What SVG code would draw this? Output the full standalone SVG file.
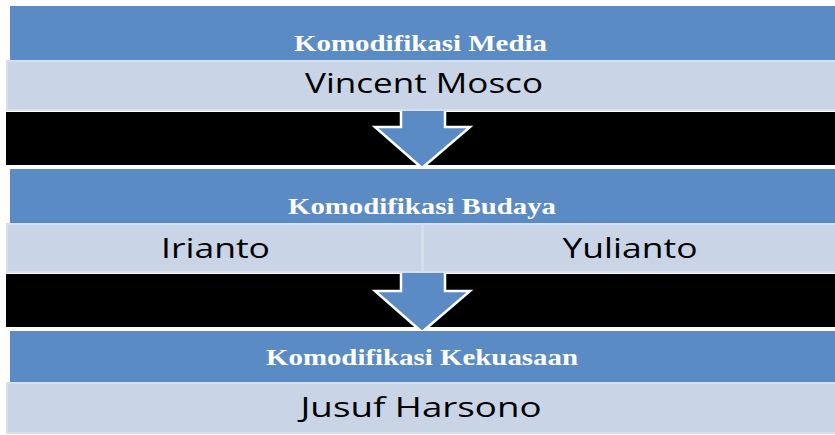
<svg xmlns="http://www.w3.org/2000/svg" width="835" height="435" viewBox="0 0 835 435">
  <style>
    .hdr { fill: #5B8BC4; }
    .cell { fill: #C9D5E7; stroke: #D6DFEC; stroke-width: 2; }
    .band { fill: #000000; }
    .arrow { fill: #5B8BC4; stroke: #FFFFFF; stroke-width: 2.5; stroke-linejoin: miter; }
    .htxt { font-family: "Liberation Serif", "Times New Roman", serif; font-weight: bold; font-size: 24px; fill: #FFFFFF; text-anchor: middle; }
    .ntxt { font-family: "Open Sans", "Liberation Sans", Arial, sans-serif; font-size: 27px; fill: #000000; text-anchor: middle; }
  </style>
  <rect x="0" y="0" width="835" height="435" fill="#FFFFFF"/>
  <rect class="band" x="6" y="112" width="829" height="53"/>
  <rect class="band" x="6" y="274" width="829" height="53"/>
  <g id="connectors">
    <polygon class="arrow" points="401,105 445,105 445,127 470,127 422,168 375,127 401,127"/>
    <polygon class="arrow" points="401,267 445,267 445,291 470,291 422,332 375,291 401,291"/>
  </g>
  <g id="node-media">
    <rect class="hdr" x="10" y="6" width="825" height="54"/>
    <text class="htxt" x="420.5" y="51" textLength="253" lengthAdjust="spacingAndGlyphs">Komodifikasi Media</text>
    <rect class="cell" x="7" y="61" width="829" height="49"/>
    <text class="ntxt" x="424" y="93" textLength="238" lengthAdjust="spacingAndGlyphs">Vincent Mosco</text>
  </g>
  <g id="node-budaya">
    <rect class="hdr" x="10" y="169" width="825" height="54"/>
    <text class="htxt" x="422" y="214" textLength="268" lengthAdjust="spacingAndGlyphs">Komodifikasi Budaya</text>
    <rect class="cell" x="7" y="224" width="415" height="48"/>
    <text class="ntxt" x="215.5" y="258" textLength="109" lengthAdjust="spacingAndGlyphs">Irianto</text>
    <rect class="cell" x="423" y="224" width="413" height="48"/>
    <text class="ntxt" x="630" y="258" textLength="135" lengthAdjust="spacingAndGlyphs">Yulianto</text>
  </g>
  <g id="node-kekuasaan">
    <rect class="hdr" x="10" y="331" width="825" height="51"/>
    <text class="htxt" x="422" y="365" textLength="312" lengthAdjust="spacingAndGlyphs">Komodifikasi Kekuasaan</text>
    <rect class="cell" x="7" y="383" width="829" height="50"/>
    <text class="ntxt" x="421" y="417" textLength="241" lengthAdjust="spacingAndGlyphs">Jusuf Harsono</text>
  </g>
</svg>
